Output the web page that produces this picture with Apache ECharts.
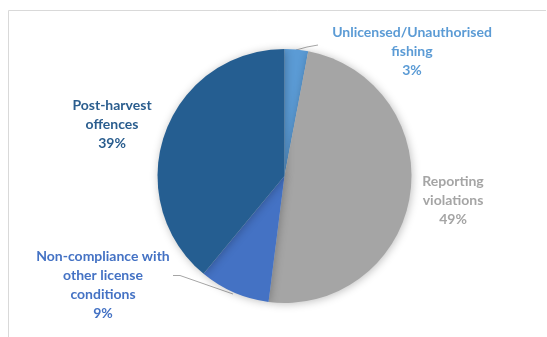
<!DOCTYPE html>
<html>
<head>
<meta charset="utf-8">
<script src="https://cdn.jsdelivr.net/npm/echarts@6/dist/echarts.min.js"></script>
<style>
  html, body { margin: 0; padding: 0; background: #ffffff; }
  #chart { width: 547px; height: 337px; }
</style>
</head>
<body>
<div id="chart"></div>
<script>
// Offence categories (clockwise from 12 o'clock) and their shares in percent
const categories = [
  'Unlicensed/Unauthorised\nfishing',
  'Reporting\nviolations',
  'Non-compliance with\nother license\nconditions',
  'Post-harvest\noffences'
];
const shares = [3, 49, 9, 39];
const sliceColors = ['#5B9BD5', '#A5A5A5', '#4472C4', '#255E91'];
const labelColors = ['#5B9BD5', '#A5A5A5', '#4472C4', '#2A5D8E'];

// Label anchor spots and leader lines (pixels)
const labelSpots = [
  { x: 412, y: 51, line: true },
  { x: 453, y: 200, line: false },
  { x: 103, y: 285, line: true },
  { x: 112, y: 124, line: false }
];

const chart = echarts.init(document.getElementById('chart'), null, { renderer: 'canvas' });

chart.setOption({
  animation: false,
  graphic: [{
    type: 'polyline',
    shape: { points: [[8.5, 340], [8.5, 10.5], [546, 10.5]] },
    style: { stroke: '#d9d9d9', lineWidth: 1, fill: null },
    silent: true
  }],
  series: [{
    type: 'pie',
    center: [284.5, 176],
    radius: 127,
    startAngle: 90,
    clockwise: true,
    avoidLabelOverlap: false,
    itemStyle: {
      borderWidth: 0,
      shadowBlur: 8,
      shadowColor: 'rgba(0,0,0,0.25)',
      shadowOffsetX: 1,
      shadowOffsetY: 1
    },
    label: {
      show: true,
      position: 'outside',
      fontFamily: 'Lato',
      fontWeight: 'bold',
      fontSize: 14,
      lineHeight: 19,
      align: 'center',
      formatter: p => p.name + '\n' + p.value + '%'
    },
    labelLine: {
      show: true,
      length: 10,
      length2: 10,
      lineStyle: { color: '#A6A6A6', width: 1 }
    },
    labelLayout: function (params) {
      const s = labelSpots[params.dataIndex];
      const out = { x: s.x, y: s.y, align: 'center', verticalAlign: 'middle' };
      if (params.dataIndex === 0) {
        out.labelLinePoints = [[296, 50], [307, 47], [318, 45]];
      } else if (params.dataIndex === 2) {
        out.labelLinePoints = [[233, 294], [180, 275.5], [173, 275.5]];
      }
      return out;
    },
    data: categories.map((name, i) => ({
      name: name,
      value: shares[i],
      itemStyle: { color: sliceColors[i] },
      label: { color: labelColors[i] },
      labelLine: { show: labelSpots[i].line }
    }))
  }]
});
</script>
</body>
</html>
